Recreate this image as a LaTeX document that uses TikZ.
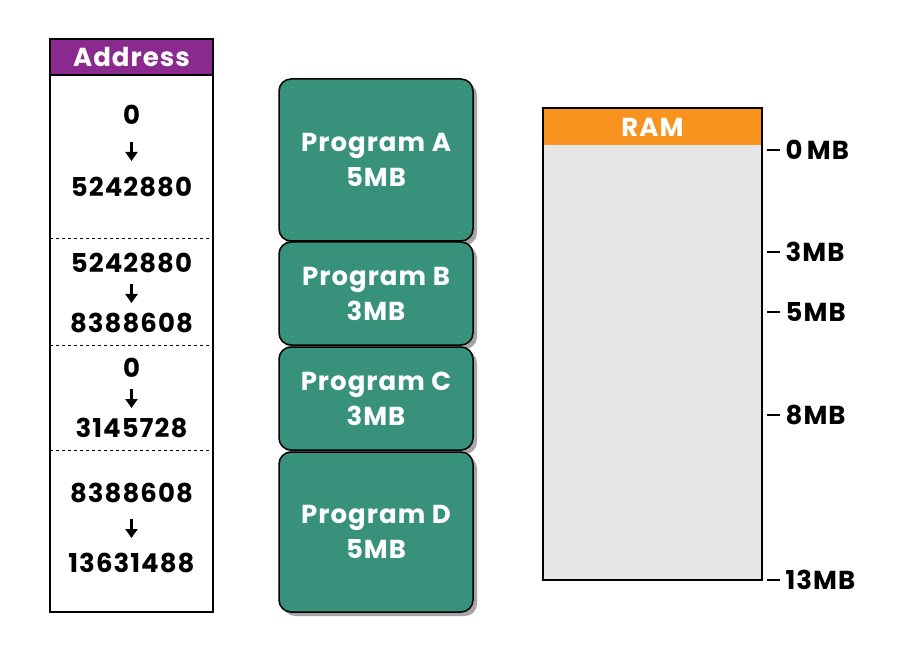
\documentclass[tikz,border=0pt]{standalone}
\usepackage{fontspec}
\setmainfont{Poppins}[LetterSpace=4]
\usetikzlibrary{arrows.meta,calc}
\begin{document}
\begin{tikzpicture}[x=1pt,y=-1pt,
  txt/.style={font=\fontsize{26}{35}\selectfont\bfseries, align=center, inner sep=0},
  prog/.style={draw=black, line width=1.5pt, fill=progc, rounded corners=12pt},
  tick/.style={line width=1.3pt}]
\definecolor{progc}{HTML}{38917A}
\definecolor{purp}{HTML}{8B2A8E}
\definecolor{oran}{HTML}{F7931E}
\definecolor{ramg}{HTML}{E6E6E6}
\useasboundingbox (0,0) rectangle (900,663);
% Address column
\fill[purp] (50,39) rectangle (213,75);
\node[txt, text=white] (addr) at (131.5,57) {Address};
\draw[line width=1.2pt] (50,39) rectangle (213,612);
\draw[line width=1.2pt] (50,75) -- (213,75);
\foreach \y in {238,345,450} \draw[dashed, line width=0.9pt] (50,\y) -- (213,\y);
\foreach \n/\a/\b/\ya/\yb in {a/0/5242880/115/187, b/5242880/8388608/263/323, c/0/3145728/368/428, d/8388608/13631488/493/563}{
  \node[txt] (\n1) at (131.5,\ya) {\a};
  \node[txt] (\n2) at (131.5,\yb) {\b};
  \coordinate (\n m) at ($(\n1)!0.5!(\n2)$);
  \draw[-{Triangle[length=9pt,width=12pt]}, line width=2.2pt] ([yshift=9pt]\n m) -- ([yshift=-10pt]\n m);
}
% Programs
\foreach \n/\t/\s/\ya/\yb in {A/A/5MB/79/241, B/B/3MB/242/345, C/C/3MB/347/450, D/D/5MB/452/612}{
  \fill[black!35, rounded corners=12pt] (283,\ya+4) rectangle (477,\yb+4);
  \draw[prog] (279,\ya) rectangle (473,\yb);
  \node[txt, text=white] (p\n) at (376,{(\ya+\yb)/2}) {Program \t\\\s};
}
% RAM
\fill[ramg] (543,145) rectangle (762,580);
\fill[oran] (543,108) rectangle (762,145);
\draw[line width=1.2pt] (543,108) rectangle (762,580);
\node[txt, text=white] (ram) at (652.5,127) {RAM};
\foreach \y/\l in {150/0\,MB, 252/3MB, 312/5MB, 415/8MB, 580/13MB}{
  \coordinate (t\y) at (767,\y);
  \draw[tick] (t\y) -- ++(13,0) node[txt, anchor=west, xshift=5pt] {\l};
}
\end{tikzpicture}
\end{document}
